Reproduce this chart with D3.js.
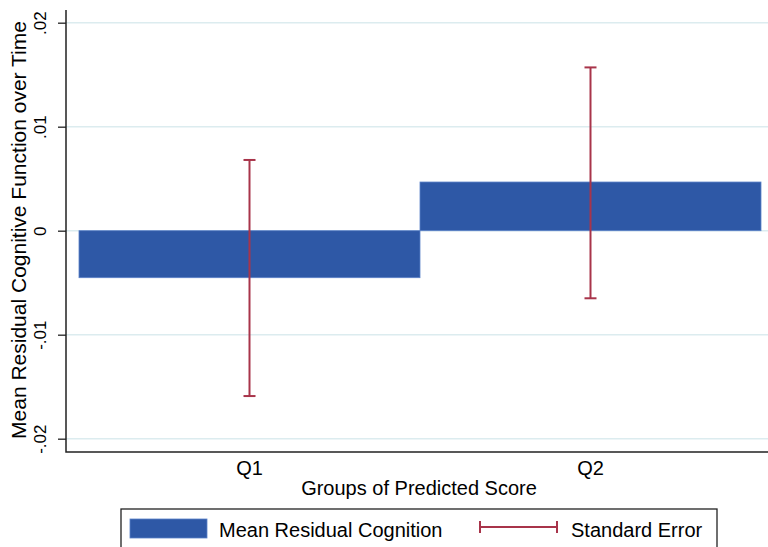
<!DOCTYPE html>
<html>
<head>
<meta charset="utf-8">
<script src="https://cdn.jsdelivr.net/npm/d3@7"></script>
<style>
  html, body { margin: 0; padding: 0; background: #fff; }
  svg { display: block; font-family: Arial, "Liberation Sans", sans-serif; }
</style>
</head>
<body>
<svg id="chart" width="768" height="547"></svg>
<script>
// Groups and their summary statistics
const groups = ["Q1", "Q2"];
const meanResidual = [-0.00452, 0.00468];
const seUpper = [0.0068, 0.0157];
const seLower = [-0.0159, -0.0065];
const yTicks = [-0.02, -0.01, 0, 0.01, 0.02];
const yTickLabels = ["-.02", "-.01", "0", ".01", ".02"];

const svg = d3.select("#chart");
const W = 768, H = 547;
const plot = { left: 66, right: 775, top: 10, bottom: 452 };

const y = d3.scaleLinear().domain([-0.02128, 0.02122]).range([plot.bottom, plot.top]);
const x = d3.scaleBand().domain(groups).range([79, 761]).padding(0);

const barColor = "#2e58a6";
const errColor = "#a8344a";
const gridColor = "#dcecef";

// horizontal grid
svg.append("g").selectAll("line").data(yTicks).join("line")
  .attr("x1", plot.left).attr("x2", W)
  .attr("y1", d => y(d)).attr("y2", d => y(d))
  .attr("stroke", gridColor).attr("stroke-width", 1.5);

// bars
svg.append("g").selectAll("rect").data(groups).join("rect")
  .attr("x", d => x(d))
  .attr("width", x.bandwidth())
  .attr("y", (d, i) => y(Math.max(0, meanResidual[i])))
  .attr("height", (d, i) => Math.abs(y(meanResidual[i]) - y(0)))
  .attr("fill", barColor)
  .attr("stroke", "#5b82c8").attr("stroke-width", 0.8);

// error bars
const capHalf = 6;
const eb = svg.append("g").attr("stroke", errColor).attr("stroke-width", 2).attr("fill", "none");
groups.forEach((g, i) => {
  const cx = x(g) + x.bandwidth() / 2;
  eb.append("line").attr("x1", cx).attr("x2", cx).attr("y1", y(seUpper[i])).attr("y2", y(seLower[i]));
  eb.append("line").attr("x1", cx - capHalf).attr("x2", cx + capHalf).attr("y1", y(seUpper[i])).attr("y2", y(seUpper[i]));
  eb.append("line").attr("x1", cx - capHalf).attr("x2", cx + capHalf).attr("y1", y(seLower[i])).attr("y2", y(seLower[i]));
});

// y axis
const yAxis = d3.axisLeft(y).tickValues(yTicks).tickSize(8)
  .tickFormat((d, i) => yTickLabels[i]);
const ya = svg.append("g").attr("transform", `translate(${plot.left},0)`).call(yAxis);
ya.select(".domain").remove();
ya.selectAll(".tick line").attr("stroke", "#222").attr("stroke-width", 1.3);
ya.selectAll(".tick text")
  .attr("x", null).attr("dy", null)
  .attr("transform", "translate(-20,0) rotate(-90)")
  .attr("text-anchor", "middle")
  .attr("font-size", 17).attr("fill", "#000")
  .attr("font-family", "Arial, 'Liberation Sans', sans-serif");

// axis lines (left and bottom)
svg.append("path")
  .attr("d", `M${plot.left},${plot.top}V${plot.bottom}H${W}`)
  .attr("fill", "none").attr("stroke", "#222").attr("stroke-width", 1.5);

// x category labels
svg.append("g").selectAll("text").data(groups).join("text")
  .attr("x", d => x(d) + x.bandwidth() / 2)
  .attr("y", 475)
  .attr("text-anchor", "middle")
  .attr("font-size", 20)
  .text(d => d);

// axis titles
svg.append("text")
  .attr("x", 419).attr("y", 495)
  .attr("text-anchor", "middle").attr("font-size", 20)
  .text("Groups of Predicted Score");

svg.append("text")
  .attr("transform", `translate(26,230) rotate(-90)`)
  .attr("text-anchor", "middle").attr("font-size", 21)
  .text("Mean Residual Cognitive Function over Time");

// legend
const lg = svg.append("g");
lg.append("rect").attr("x", 121).attr("y", 509).attr("width", 596).attr("height", 60)
  .attr("fill", "#fff").attr("stroke", "#222").attr("stroke-width", 1.3);
lg.append("rect").attr("x", 130).attr("y", 519).attr("width", 77).attr("height", 19)
  .attr("fill", barColor).attr("stroke", "#5b82c8").attr("stroke-width", 0.8);
lg.append("text").attr("x", 219).attr("y", 537).attr("font-size", 20).text("Mean Residual Cognition");
const lgE = lg.append("g").attr("stroke", errColor).attr("stroke-width", 2);
lgE.append("line").attr("x1", 480).attr("x2", 557).attr("y1", 527).attr("y2", 527);
lgE.append("line").attr("x1", 480).attr("x2", 480).attr("y1", 521).attr("y2", 533);
lgE.append("line").attr("x1", 557).attr("x2", 557).attr("y1", 521).attr("y2", 533);
lg.append("text").attr("x", 571).attr("y", 537).attr("font-size", 20).text("Standard Error");
</script>
</body>
</html>
